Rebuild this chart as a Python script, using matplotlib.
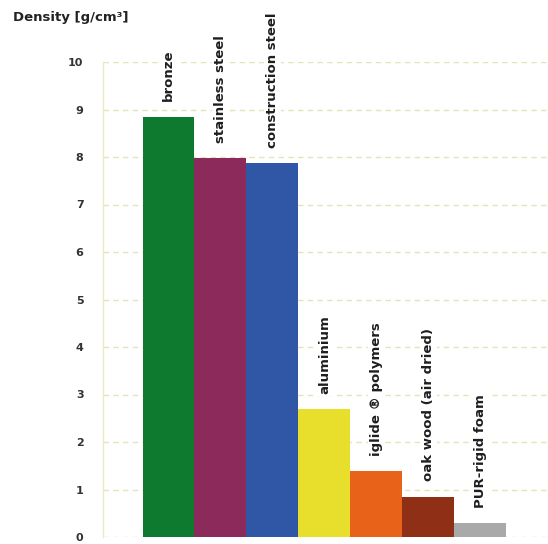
import matplotlib.pyplot as plt

materials = ["bronze", "stainless steel", "construction steel", "aluminium",
             "iglide \u00ae polymers", "oak wood (air dried)", "PUR-rigid foam"]
density = [8.85, 7.97, 7.87, 2.69, 1.38, 0.85, 0.30]
colors = ["#0e7a2f", "#8c2a5c", "#3056a6", "#e7df2c", "#e8621a", "#8e2f16", "#a9a9a9"]
yticks = list(range(0, 11))

fig = plt.figure(figsize=(5.48, 5.44), dpi=100)
ax = fig.add_axes([103 / 548, 1 - 537 / 544, (548 - 103) / 548, (537 - 62) / 544])

x = list(range(len(materials)))
ax.bar(x, density, width=1.0, color=colors, zorder=3)

# dashed yellowish grid
for t in yticks:
    ax.axhline(t, color="#e6e3b8", linewidth=1.0, linestyle=(0, (4, 3)), zorder=1)

# rotated labels above bars (white box hides grid behind text)
for xi, v, name in zip(x, density, materials):
    ax.text(xi, v + 0.32, name, rotation=90, ha="center", va="bottom",
            fontsize=9.5, fontweight="bold", color="#1e1e1e", zorder=4,
            bbox=dict(facecolor="white", edgecolor="none", pad=1.5))

ax.set_xlim(-1.26, 7.3)
ax.set_ylim(0, 10)
ax.set_yticks(yticks)
ax.set_yticklabels([str(t) for t in yticks], fontsize=8, fontweight="bold", color="#333333")
ax.tick_params(axis="y", length=0, pad=14)
ax.set_xticks([])

for side in ["top", "right", "bottom"]:
    ax.spines[side].set_visible(False)
ax.spines["left"].set_color("#ece9c4")
ax.spines["left"].set_linewidth(1.0)

fig.text(13 / 548, 1 - 18 / 544, "Density [g/cm\u00b3]", fontsize=9.5,
         fontweight="bold", color="#222222", ha="left", va="center")

fig.savefig("out.png", dpi=100)
